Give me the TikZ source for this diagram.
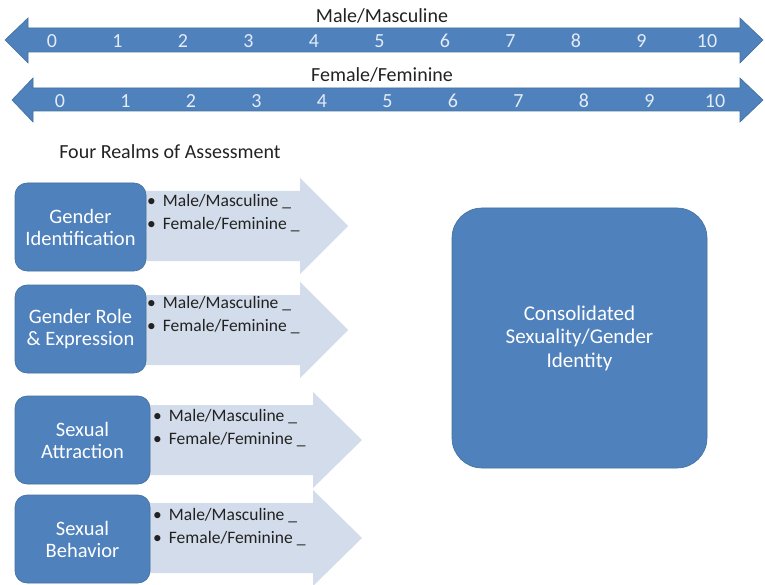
\documentclass[tikz,border=0pt]{standalone}
\usepackage{fontspec}
\setmainfont{Carlito}
\usepackage{xcolor}
\usetikzlibrary{positioning}

\definecolor{realmblue}{HTML}{4F81BD}
\definecolor{realmedge}{HTML}{41719C}
\definecolor{realmpale}{HTML}{D3DCEA}
\definecolor{scalefg}{HTML}{E4EBF5}
\definecolor{listtext}{HTML}{222222}

\begin{document}
\begin{tikzpicture}[x=1pt, y=-1pt,
    realm/.style={fill=realmblue, draw=realmedge, line width=0.6pt, rounded corners=12pt,
        minimum width=131pt, minimum height=88pt, inner sep=0pt,
        text=white, align=center, font=\fontsize{20.5}{22}\selectfont},
    scalenum/.style={text=scalefg, font=\fontsize{20}{20}\selectfont, inner sep=0pt},
    scaletitle/.style={text=listtext, font=\fontsize{20}{22}\selectfont, inner sep=0pt},
    items/.style={anchor=west, align=left, inner sep=0pt, text=listtext,
        font=\fontsize{17.5}{23}\selectfont}]
    \useasboundingbox (0,0) rectangle (765,585);

    % the two rating scales
    \fill[realmblue, draw=realmedge, line width=0.6pt]
        (5,40) -- (28,18) -- (28,28) -- (740,28) -- (740,18) -- (763,40)
        -- (740,63) -- (740,52) -- (28,52) -- (28,63) -- cycle;
    \fill[realmblue, draw=realmedge, line width=0.6pt]
        (12,100) -- (33,78) -- (33,88) -- (740,88) -- (740,78) -- (763,100)
        -- (740,122) -- (740,111) -- (33,111) -- (33,122) -- cycle;
    \node[scaletitle] (mtitle) at (382,16) {Male/Masculine};
    \node[scaletitle] (ftitle) at (382,75) {Female/Feminine};
    \foreach \n in {0,...,10} {
        \node[scalenum] (m\n) at (52+65.5*\n, 41) {\n};
        \node[scalenum] (f\n) at (60+65.5*\n, 101) {\n};
    }

    \node[scaletitle] (realms) at (170,152) {Four Realms of Assessment};

    % pale arrows behind the realms
    \foreach \cy/\hb/\tp in {226/300/348, 330/300/348, 440/313/362, 538/313/362}
        \fill[realmpale] (140,\cy-35) -- (\hb,\cy-35) -- (\hb,\cy-48) -- (\tp,\cy)
            -- (\hb,\cy+48) -- (\hb,\cy+35) -- (140,\cy+35) -- cycle;

    \node[realm] (gi) at (80.5,227) {Gender\\Identification};
    \node[realm] (gr) at (80.5,329) {Gender Role\\\& Expression};
    \node[realm, minimum width=135pt] (sa) at (82.5,440) {Sexual\\Attraction};
    \node[realm, minimum width=135pt] (sb) at (82.5,539) {Sexual\\Behavior};

    \node[items] (gilist) at (147,213.5) {\textbullet\hspace{7pt}Male/Masculine \_\\\textbullet\hspace{7pt}Female/Feminine \_};
    \node[items] (grlist) at (147,315.5) {\textbullet\hspace{7pt}Male/Masculine \_\\\textbullet\hspace{7pt}Female/Feminine \_};
    \node[items] (salist) at (153,428.5) {\textbullet\hspace{7pt}Male/Masculine \_\\\textbullet\hspace{7pt}Female/Feminine \_};
    \node[items] (sblist) at (153,527.5) {\textbullet\hspace{7pt}Male/Masculine \_\\\textbullet\hspace{7pt}Female/Feminine \_};

    \node[realm, minimum width=255pt, minimum height=260pt, rounded corners=30pt,
        font=\fontsize{21}{23.5}\selectfont] (csg) at (579.5,338)
        {Consolidated\\Sexuality/Gender\\Identity};
\end{tikzpicture}
\end{document}
